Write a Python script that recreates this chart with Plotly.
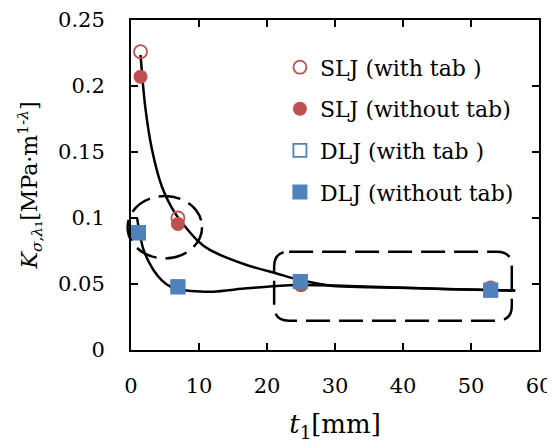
import plotly.graph_objects as go

# ---- data ----
t1_slj = [1.4, 6.9, 25.0, 52.9]
slj_with_tab = [0.226, 0.100, 0.050, 0.047]
slj_without_tab = [0.207, 0.0955, 0.049, 0.046]

t1_dlj = [1.1, 6.9, 24.9, 52.9]
dlj_with_tab = [0.089, 0.048, 0.052, 0.0455]
dlj_without_tab = [0.0886, 0.0477, 0.0518, 0.0452]

# fitted trend curves
fit_slj_x = [1.4, 2.1, 3.1, 4.55, 6.5, 9.7, 11.6, 17, 21.4, 24.9, 29.7, 35, 42.5, 50, 56.5]
fit_slj_y = [0.2235, 0.184, 0.1515, 0.1237, 0.1035, 0.0833, 0.0758, 0.0644, 0.058, 0.053,
             0.0485, 0.0476, 0.0467, 0.0458, 0.045]
fit_dlj_x = [0.9, 1.85, 3.3, 4.5, 5.8, 7.7, 10.2, 12.1, 17, 21.4, 24.9, 30, 38, 47, 56.5]
fit_dlj_y = [0.0997, 0.0758, 0.0606, 0.053, 0.048, 0.0455, 0.0443, 0.0442, 0.0467, 0.0485,
             0.0492, 0.0488, 0.0475, 0.046, 0.045]

x_ticks = [0, 10, 20, 30, 40, 50, 60]
y_ticks = [0, 0.05, 0.1, 0.15, 0.2, 0.25]
y_tick_text = ["0", "0.05", "0.1", "0.15", "0.2", "0.25"]

X_RANGE = [0, 60]
Y_RANGE = [0, 0.25]

RED = "#C0504D"
BLUE = "#4F81BD"
FONT = "DejaVu Serif"

fig = go.Figure()

fig.add_trace(go.Scatter(x=fit_slj_x, y=fit_slj_y, mode="lines", line=dict(color="black", width=2.5, shape="spline", smoothing=0.8),
                         showlegend=False, hoverinfo="skip"))
fig.add_trace(go.Scatter(x=fit_dlj_x, y=fit_dlj_y, mode="lines", line=dict(color="black", width=2.5, shape="spline", smoothing=0.8),
                         showlegend=False, hoverinfo="skip"))

fig.add_trace(go.Scatter(x=t1_slj, y=slj_with_tab, mode="markers", name="SLJ (with tab )", legendgroup="a",
                         marker=dict(symbol="circle-open", size=13, color=RED, line=dict(width=1.8, color=RED)),
                         cliponaxis=False))
fig.add_trace(go.Scatter(x=t1_slj, y=slj_without_tab, mode="markers", name="SLJ (without tab)", legendgroup="b",
                         marker=dict(symbol="circle", size=14, color=RED, line=dict(width=0)),
                         cliponaxis=False))
fig.add_trace(go.Scatter(x=t1_dlj, y=dlj_with_tab, mode="markers", name="DLJ (with tab )", legendgroup="c",
                         marker=dict(symbol="square-open", size=13, color=BLUE, line=dict(width=1.8, color=BLUE)),
                         cliponaxis=False))
fig.add_trace(go.Scatter(x=t1_dlj, y=dlj_without_tab, mode="markers", name="DLJ (without tab)", legendgroup="d",
                         marker=dict(symbol="square", size=15, color=BLUE, line=dict(width=0)),
                         cliponaxis=False))


def px(v):
    return (v - X_RANGE[0]) / (X_RANGE[1] - X_RANGE[0])


def py(v):
    return (v - Y_RANGE[0]) / (Y_RANGE[1] - Y_RANGE[0])


# dashed ellipse around the small-t1 points
ell = dict(x0=-0.5, x1=10.45, y0=0.0694, y1=0.1166)
fig.add_shape(type="circle", xref="paper", yref="paper",
              x0=px(ell["x0"]), x1=px(ell["x1"]), y0=py(ell["y0"]), y1=py(ell["y1"]),
              line=dict(color="black", width=2.5, dash="22px,9px"))

# dashed rounded rectangle around the large-t1 points
rx0, rx1, ry0, ry1 = 21.05, 56.0, 0.0222, 0.0745
cx, cy = 2.2, 0.0112
path = (f"M {rx0 + cx},{ry1} L {rx1 - cx},{ry1} Q {rx1},{ry1} {rx1},{ry1 - cy} "
        f"L {rx1},{ry0 + cy} Q {rx1},{ry0} {rx1 - cx},{ry0} "
        f"L {rx0 + cx},{ry0} Q {rx0},{ry0} {rx0},{ry0 + cy} "
        f"L {rx0},{ry1 - cy} Q {rx0},{ry1} {rx0 + cx},{ry1} Z")
fig.add_shape(type="path", xref="x", yref="y", path=path,
              line=dict(color="black", width=2.5, dash="24px,9px"))

axis_common = dict(showline=True, linecolor="black", linewidth=2, mirror="ticks",
                   ticks="inside", ticklen=7, tickwidth=2, tickcolor="black",
                   showgrid=False, zeroline=False, automargin=False,
                   ticklabeloverflow="allow",
                   tickfont=dict(family=FONT, size=21, color="black"))

fig.update_xaxes(range=X_RANGE, tickvals=x_ticks, ticklabelstandoff=16,
                 title=dict(text="<i>t</i><sub>1</sub>[mm]", font=dict(family=FONT, size=26, color="black"), standoff=18),
                 **axis_common)
fig.update_yaxes(range=Y_RANGE, tickvals=y_ticks, ticktext=y_tick_text, ticklabelstandoff=20,
                 title=dict(text="<i>K</i><sub><i>σ</i>,<i>λ</i>₁</sub>[MPa·m<sup>1-<i>λ</i></sup>]",
                            font=dict(family=FONT, size=22, color="black"), standoff=14),
                 **axis_common)

fig.update_layout(
    width=547, height=438,
    margin=dict(l=123, r=16, t=12, b=96),
    paper_bgcolor="white", plot_bgcolor="white",
    font=dict(family=FONT, size=22, color="black"),
    legend=dict(x=0.365, y=0.92, xanchor="left", yanchor="top", bgcolor="rgba(0,0,0,0)",
                tracegroupgap=10, font=dict(family=FONT, size=22, color="black"), itemwidth=30),
)

fig.write_html("out.html", config={"displayModeBar": False})
